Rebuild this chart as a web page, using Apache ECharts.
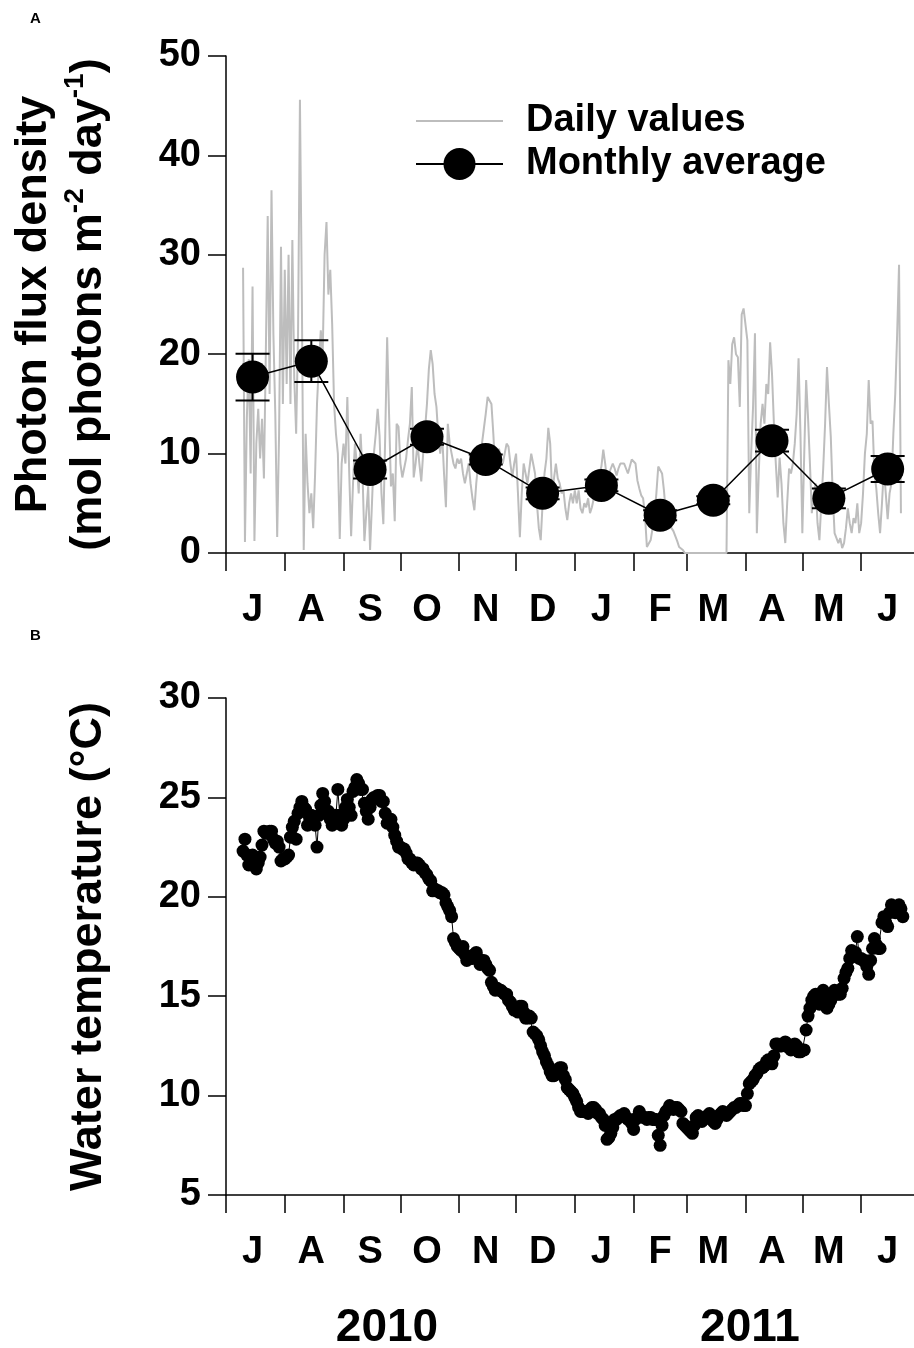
<!DOCTYPE html>
<html>
<head>
<meta charset="utf-8">
<title>Photon flux density and water temperature</title>
<script src="https://cdn.jsdelivr.net/npm/echarts@6/dist/echarts.min.js"></script>
<style>
  html, body { margin: 0; padding: 0; background: #fff; }
  #chart { width: 914px; height: 1348px; }
</style>
</head>
<body>
<div id="chart"></div>
<script>
// x is counted in days from 1 July 2010 (day 0)
var monthStarts = [0, 31, 62, 92, 123, 153, 184, 215, 243, 274, 304, 335, 365];
var monthLetters = ['J', 'A', 'S', 'O', 'N', 'D', 'J', 'F', 'M', 'A', 'M', 'J'];
var yearLabels = ['2010', '2011'];
var firstDay = 9; // first daily record, 10 July 2010

// daily photon flux density, mol photons m-2 day-1
var fluxJul = [28.7, 1.1, 13.6, 19.5, 8.0, 26.8, 1.2, 11.0, 14.5, 9.5, 13.5, 7.5, 20.0, 33.9, 16.0, 36.5, 22.0, 14.0, 1.6, 12.0, 30.8, 15.0];
var fluxAug = [28.5, 17.0, 30.0, 15.0, 31.5, 17.6, 12.0, 22.0, 45.6, 26.0, 0.3, 12.0, 7.0, 4.0, 6.0, 2.5, 8.0, 15.0, 19.0, 22.4, 20.0, 30.0, 33.3, 26.0, 28.5, 23.0, 15.0, 12.0, 10.0, 1.4, 9.0];
var fluxSep = [11.0, 9.0, 15.7, 8.0, 1.7, 7.0, 11.0, 9.0, 6.0, 12.0, 8.0, 1.2, 4.0, 6.7, 0.3, 5.0, 10.0, 12.0, 14.5, 11.8, 6.0, 2.9, 12.0, 21.7, 14.0, 6.7, 8.0, 3.2, 13.0, 12.7];
var fluxOct = [9.0, 7.6, 7.6, 9.5, 11.4, 13.0, 16.7, 7.6, 9.0, 11.0, 9.0, 7.2, 10.0, 12.5, 15.0, 18.5, 20.4, 19.0, 16.0, 14.7, 11.7, 10.0, 12.0, 8.0, 4.6, 13.0, 11.0, 10.0, 9.0, 8.5, 9.5];
var fluxNov = [9.0, 9.5, 8.0, 7.0, 8.0, 9.0, 7.0, 5.5, 4.3, 7.0, 9.0, 10.0, 11.0, 12.5, 14.0, 15.7, 15.8, 15.0, 12.0, 8.5, 9.5, 10.5, 9.5, 9.0, 10.0, 11.0, 10.7, 9.0, 7.6, 9.0];
var fluxDec = [10.0, 6.0, 1.6, 6.0, 9.0, 8.0, 7.0, 8.5, 10.0, 9.0, 8.0, 5.0, 2.5, 1.3, 5.0, 8.0, 9.5, 12.6, 11.0, 6.0, 7.5, 9.0, 7.5, 7.0, 6.0, 6.3, 4.5, 3.3, 5.0, 6.0, 5.0];
var fluxJan = [6.3, 5.0, 6.3, 4.5, 4.0, 5.0, 4.6, 5.5, 4.0, 4.6, 5.5, 6.5, 7.3, 8.0, 8.7, 10.4, 9.0, 7.3, 8.0, 8.5, 9.0, 8.5, 7.8, 8.5, 9.0, 9.2, 9.0, 8.5, 8.0, 8.7, 9.4];
var fluxFeb = [9.4, 9.0, 7.3, 6.5, 5.8, 5.5, 3.8, 0.6, 0.8, 1.3, 2.5, 3.8, 6.0, 8.7, 8.7, 8.0, 6.3, 4.0, 2.8, 2.6, 2.5, 2.2, 2.0, 1.2, 0.6, 0.6, 0.3, 0.0];
var fluxMar = [0, 0, 0, 0, 0, 0, 0, 0, 0, 0, 0, 0, 0, 0, 0, 0, 0, 0, 0, 0, 0, 0, 19.4, 17.0, 21.0, 21.7, 20.0, 19.7, 14.7, 24.0, 24.6];
var fluxApr = [24.6, 21.4, 4.0, 10.0, 14.7, 22.1, 2.0, 8.0, 13.0, 15.0, 13.0, 17.0, 16.0, 21.2, 18.0, 13.0, 9.0, 5.6, 9.6, 7.0, 3.0, 1.0, 5.0, 8.5, 8.0, 9.0, 11.0, 14.0, 19.6, 12.0];
var fluxMay = [2.0, 10.0, 17.4, 13.6, 9.0, 4.0, 6.0, 7.0, 3.0, 1.3, 5.0, 8.5, 13.0, 18.7, 15.0, 11.7, 6.0, 2.0, 2.0, 1.0, 1.5, 0.5, 1.0, 2.5, 4.5, 3.0, 2.0, 3.5, 3.0, 5.0, 2.0];
var fluxJun = [3.0, 6.0, 10.0, 12.0, 17.4, 13.0, 13.3, 8.0, 6.5, 4.0, 2.0, 5.0, 8.5, 6.0, 3.4, 6.0, 7.0, 12.0, 16.0, 22.0, 29.0, 4.0];

// monthly mean and error bar half-height
var monthlyAvg = [17.7, 19.3, 8.4, 11.7, 9.4, 6.0, 6.8, 3.8, 5.3, 11.3, 5.5, 8.45];
var monthlyErr = [2.35, 2.1, 0.9, 0.8, 0.5, 0.6, 0.6, 0.5, 0.4, 1.1, 1.0, 1.3];

// daily water temperature, °C
var tempJul = [22.3, 22.9, 22.1, 21.6, 21.9, 22.1, 21.8, 21.4, 21.7, 22.0, 22.6, 23.3, 23.2, 23.2, 23.3, 23.3, 22.9, 22.7, 22.8, 22.5, 21.8, 21.9];
var tempAug = [21.9, 22.0, 22.1, 23.0, 23.5, 23.8, 22.9, 24.2, 24.5, 24.8, 24.5, 24.4, 23.6, 24.0, 24.1, 23.9, 23.6, 22.5, 24.1, 24.6, 25.2, 24.8, 24.3, 24.3, 23.9, 23.6, 23.7, 24.1, 25.4, 24.1, 23.6];
var tempSep = [23.9, 24.5, 24.9, 24.5, 24.1, 25.3, 25.5, 25.9, 25.7, 25.4, 25.4, 24.7, 24.3, 23.9, 24.5, 24.9, 25.0, 25.0, 25.1, 25.1, 24.8, 24.8, 24.2, 23.7, 23.8, 23.9, 23.5, 23.1, 22.8, 22.5];
var tempOct = [22.5, 22.4, 22.4, 22.2, 21.9, 21.9, 21.7, 21.6, 21.7, 21.7, 21.6, 21.4, 21.4, 21.2, 21.1, 20.9, 20.8, 20.3, 20.4, 20.3, 20.3, 20.2, 20.2, 20.1, 19.7, 19.5, 19.3, 19.0, 17.9, 17.7, 17.5];
var tempNov = [17.4, 17.3, 17.5, 17.1, 16.8, 16.9, 17.0, 16.9, 17.1, 17.2, 16.9, 16.6, 16.7, 16.8, 16.6, 16.4, 16.3, 15.7, 15.5, 15.3, 15.4, 15.3, 15.3, 15.2, 15.1, 15.1, 14.8, 14.7, 14.5, 14.3];
var tempDec = [14.3, 14.2, 14.5, 14.5, 14.2, 13.9, 13.9, 14.0, 13.9, 13.2, 13.1, 13.0, 12.8, 12.5, 12.2, 12.0, 11.7, 11.5, 11.2, 11.0, 11.0, 11.1, 11.3, 11.4, 11.4, 11.0, 10.8, 10.4, 10.3, 10.2, 10.1];
var tempJan = [9.9, 9.7, 9.4, 9.2, 9.2, 9.2, 9.2, 9.1, 9.3, 9.4, 9.4, 9.3, 9.1, 9.1, 8.9, 8.8, 8.5, 7.8, 7.9, 8.1, 8.4, 8.8, 8.8, 8.9, 9.0, 9.0, 9.1, 8.9, 8.8, 8.8, 8.6];
var tempFeb = [8.3, 8.8, 8.9, 9.2, 9.0, 8.9, 8.9, 8.8, 8.9, 8.9, 8.8, 8.8, 8.8, 8.0, 7.5, 8.5, 9.0, 9.2, 9.3, 9.5, 9.4, 9.3, 9.4, 9.4, 9.3, 9.2, 8.6, 8.5];
var tempMar = [8.4, 8.3, 8.2, 8.1, 8.5, 8.9, 9.0, 8.8, 8.7, 8.8, 8.9, 9.0, 9.1, 8.9, 8.7, 8.6, 8.8, 9.0, 9.1, 9.2, 9.1, 9.0, 9.1, 9.2, 9.3, 9.4, 9.4, 9.5, 9.6, 9.6, 9.5];
var tempApr = [9.5, 10.1, 10.6, 10.7, 10.8, 11.0, 11.1, 11.3, 11.4, 11.4, 11.5, 11.7, 11.8, 11.7, 11.6, 12.0, 12.6, 12.6, 12.5, 12.5, 12.6, 12.7, 12.6, 12.4, 12.3, 12.4, 12.6, 12.5, 12.2, 12.2];
var tempMay = [12.3, 12.3, 13.3, 14.0, 14.4, 14.8, 15.0, 15.1, 14.9, 14.6, 15.0, 15.3, 14.9, 14.4, 14.6, 14.8, 15.0, 15.3, 15.2, 15.1, 15.1, 15.4, 15.9, 16.2, 16.4, 16.9, 17.3, 17.0, 17.2, 18.0, 16.9];
var tempJun = [16.9, 16.8, 16.8, 16.5, 16.1, 16.8, 17.4, 17.9, 17.6, 17.4, 17.4, 18.7, 19.0, 18.7, 18.5, 19.2, 19.6, 19.5, 19.2, 19.3, 19.6, 19.4, 19.0];

var font = '"Liberation Sans", Arial, sans-serif';
var ink = '#000';

// join the month arrays into [day, value] pairs
function daily(months) {
    var all = [].concat.apply([], months);
    return all.map(function(v, i) { return [firstDay + i, v]; });
}

var fluxDaily = daily([fluxJul, fluxAug, fluxSep, fluxOct, fluxNov, fluxDec, fluxJan, fluxFeb, fluxMar, fluxApr, fluxMay, fluxJun]);
var tempDaily = daily([tempJul, tempAug, tempSep, tempOct, tempNov, tempDec, tempJan, tempFeb, tempMar, tempApr, tempMay, tempJun]);

// monthly values and month letters sit on the 15th of each month
var monthMid = monthLetters.map(function(m, i) { return monthStarts[i] + 14; });
var monthly = monthlyAvg.map(function(v, i) { return [monthMid[i], v]; });
var errBars = monthlyAvg.map(function(v, i) { return [monthMid[i], v - monthlyErr[i], v + monthlyErr[i]]; });

function xAxisFor(gridIndex) {
    return {
        type: 'value',
        gridIndex: gridIndex,
        min: 0,
        max: 365,
        axisLine: { onZero: false, lineStyle: { color: ink, width: 1.5 } },
        axisTick: { length: 18, customValues: monthStarts, lineStyle: { color: ink, width: 1.5 } },
        axisLabel: {
            customValues: monthMid,
            formatter: function(v) { return monthLetters[monthMid.indexOf(v)] || ''; },
            margin: 39,
            color: ink,
            fontSize: 38,
            fontWeight: 'bold',
            fontFamily: font
        },
        splitLine: { show: false }
    };
}

function yAxisFor(gridIndex, min, max, step, name, rich) {
    return {
        type: 'value',
        gridIndex: gridIndex,
        min: min,
        max: max,
        interval: step,
        name: name,
        nameLocation: 'middle',
        nameRotate: 90,
        nameGap: 110,
        nameTextStyle: { rich: rich },
        axisLine: { show: true, lineStyle: { color: ink, width: 1.5 } },
        axisTick: { show: true, length: 18, lineStyle: { color: ink, width: 1.5 } },
        axisLabel: { margin: 25, color: ink, fontSize: 38, fontWeight: 'bold', fontFamily: font },
        splitLine: { show: false }
    };
}

var titleRich = {
    t: { fontSize: 45, fontWeight: 'bold', fontFamily: font, color: ink, lineHeight: 55 },
    s: { fontSize: 28, fontWeight: 'bold', fontFamily: font, color: ink, lineHeight: 26, verticalAlign: 'top' }
};

function renderErrorBar(params, api) {
    var x = api.value(0);
    var lo = api.coord([x, api.value(1)]);
    var hi = api.coord([x, api.value(2)]);
    var half = 17;
    var st = { stroke: ink, lineWidth: 2 };
    return {
        type: 'group',
        children: [
            { type: 'line', shape: { x1: hi[0], y1: hi[1], x2: lo[0], y2: lo[1] }, style: st },
            { type: 'line', shape: { x1: hi[0] - half, y1: hi[1], x2: hi[0] + half, y2: hi[1] }, style: st },
            { type: 'line', shape: { x1: lo[0] - half, y1: lo[1], x2: lo[0] + half, y2: lo[1] }, style: st }
        ]
    };
}

var chart = echarts.init(document.getElementById('chart'));

chart.setOption({
    animation: false,
    backgroundColor: '#fff',
    grid: [
        { left: 226, top: 56, width: 692, height: 497, outerBoundsMode: 'none' },
        { left: 226, top: 698, width: 692, height: 497, outerBoundsMode: 'none' }
    ],
    xAxis: [xAxisFor(0), xAxisFor(1)],
    yAxis: [
        yAxisFor(0, 0, 50, 10, '{t|Photon flux density}\n{t|(mol photons m}{s|-2}{t| day}{s|-1}{t|)}', titleRich),
        yAxisFor(1, 5, 30, 5, '{t|Water temperature (°C)}', titleRich)
    ],
    legend: {
        orient: 'vertical',
        left: 410,
        top: 97,
        itemWidth: 87,
        itemHeight: 40,
        itemGap: 5,
        selectedMode: false,
        textStyle: { color: ink, fontSize: 38, fontWeight: 'bold', fontFamily: font, padding: [0, 0, 0, 18] },
        data: [
            { name: 'Daily values', itemStyle: { opacity: 0 } },
            { name: 'Monthly average' }
        ]
    },
    graphic: [
        { type: 'text', x: 30, y: 11, style: { text: 'A', font: 'bold 15px ' + font, fill: ink } },
        { type: 'text', x: 30, y: 628, style: { text: 'B', font: 'bold 15px ' + font, fill: ink } },
        { type: 'text', x: 387, y: 1328, style: { text: yearLabels[0], font: 'bold 46px ' + font, fill: ink, align: 'center', verticalAlign: 'middle' } },
        { type: 'text', x: 750, y: 1328, style: { text: yearLabels[1], font: 'bold 46px ' + font, fill: ink, align: 'center', verticalAlign: 'middle' } }
    ],
    series: [
        {
            name: 'Daily values',
            type: 'line',
            xAxisIndex: 0,
            yAxisIndex: 0,
            data: fluxDaily,
            showSymbol: false,
            symbol: 'none',
            lineStyle: { color: '#bdbdbd', width: 2 },
            itemStyle: { color: '#bdbdbd' },
            z: 1
        },
        {
            name: 'error',
            type: 'custom',
            xAxisIndex: 0,
            yAxisIndex: 0,
            data: errBars,
            renderItem: renderErrorBar,
            encode: { x: 0, y: [1, 2] },
            z: 2
        },
        {
            name: 'Monthly average',
            type: 'line',
            xAxisIndex: 0,
            yAxisIndex: 0,
            data: monthly,
            symbol: 'circle',
            symbolSize: 33,
            lineStyle: { color: ink, width: 1.5 },
            itemStyle: { color: ink },
            z: 3
        },
        {
            name: 'Water temperature',
            type: 'line',
            xAxisIndex: 1,
            yAxisIndex: 1,
            data: tempDaily,
            symbol: 'circle',
            symbolSize: 13,
            showAllSymbol: true,
            lineStyle: { color: ink, width: 1 },
            itemStyle: { color: ink }
        }
    ]
});
</script>
</body>
</html>
